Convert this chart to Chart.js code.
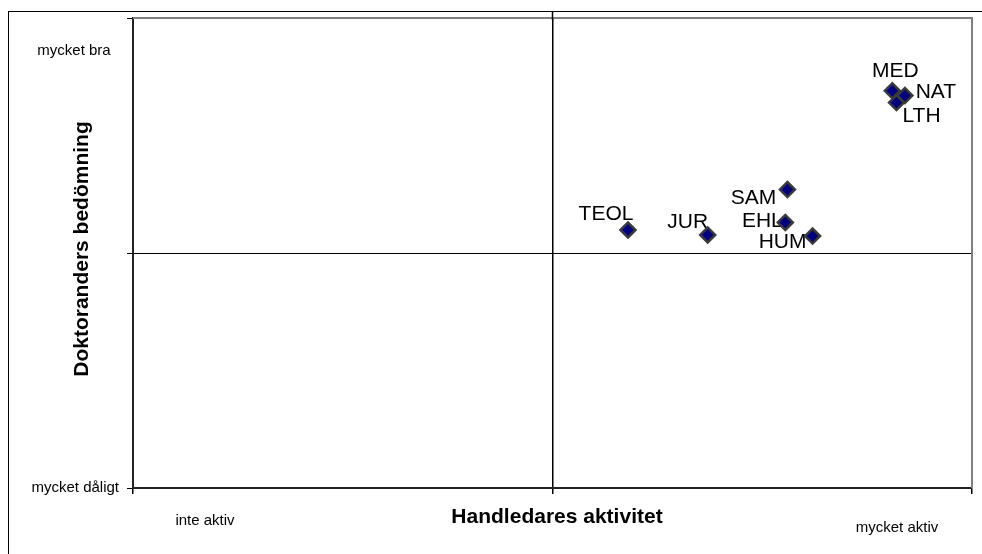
<!DOCTYPE html>
<html>
<head>
<meta charset="utf-8">
<script src="https://cdn.jsdelivr.net/npm/chart.js@4.4.1/dist/chart.umd.min.js"></script>
<style>
    body { margin: 0; background: #fff; }
    canvas { display: block; }
</style>
</head>
<body>
<canvas id="chart" width="982" height="554"></canvas>
<script>
// Faculties and their position (x = handledares aktivitet, y = doktoranders bedömning), scale -1..1
const faculties = ['MED', 'NAT', 'LTH', 'SAM', 'EHL', 'HUM', 'TEOL', 'JUR'];
const activity = [0.81, 0.84, 0.82, 0.56, 0.555, 0.62, 0.18, 0.37];
const rating = [0.69, 0.67, 0.64, 0.27, 0.13, 0.072, 0.098, 0.077];

const xTitle = 'Handledares aktivitet';
const yTitle = 'Doktoranders bedömning';
const xEndLabels = ['inte aktiv', 'mycket aktiv'];
const yEndLabels = ['mycket dåligt', 'mycket bra'];

// where each name sits relative to its marker
const labelOffsets = {
    MED: [3, -20], NAT: [31, -3], LTH: [25, 14], SAM: [-34, 9],
    EHL: [-23, -1], HUM: [-30, 6], TEOL: [-22, -16], JUR: [-20, -13]
};

const FONT = '"Liberation Sans", Arial, sans-serif';

const decorations = {
    id: 'decorations',
    beforeDraw(chart) {
        const ctx = chart.ctx;
        ctx.save();
        ctx.strokeStyle = '#000';
        ctx.lineWidth = 1;
        ctx.strokeRect(8.5, 11.5, 1100, 700);
        ctx.restore();
    },
    beforeDatasetsDraw(chart) {
        const ctx = chart.ctx;
        const a = chart.chartArea;
        // grey plot border top and right
        ctx.save();
        ctx.strokeStyle = '#808080';
        ctx.lineWidth = 2;
        ctx.beginPath();
        ctx.moveTo(a.left, a.top);
        ctx.lineTo(a.right, a.top);
        ctx.lineTo(a.right, a.bottom);
        ctx.stroke();

        // centre line runs up to the outer frame
        const x0 = chart.scales.x.getPixelForValue(0);
        ctx.strokeStyle = '#000';
        ctx.lineWidth = 1.5;
        ctx.beginPath();
        ctx.moveTo(x0, 11);
        ctx.lineTo(x0, a.top + 2);
        ctx.stroke();

        // point names
        const meta = chart.getDatasetMeta(0);
        ctx.fillStyle = '#000';
        ctx.font = '21px ' + FONT;
        ctx.textAlign = 'center';
        ctx.textBaseline = 'middle';
        meta.data.forEach((pt, i) => {
            const off = labelOffsets[faculties[i]];
            ctx.fillText(faculties[i], pt.x + off[0], pt.y + off[1]);
        });
        ctx.restore();
    },
    afterDraw(chart) {
        const ctx = chart.ctx;
        const a = chart.chartArea;
        const ys = chart.scales.y;
        ctx.save();
        ctx.fillStyle = '#000';
        ctx.textBaseline = 'middle';

        ctx.font = '15px ' + FONT;
        ctx.textAlign = 'center';
        ctx.fillText(yEndLabels[1], 74, ys.getPixelForValue(0.86));
        ctx.textAlign = 'right';
        ctx.fillText(yEndLabels[0], a.left - 14, ys.getPixelForValue(-1));
        ctx.textAlign = 'center';
        ctx.fillText(xEndLabels[0], 205, a.bottom + 33);
        ctx.fillText(xEndLabels[1], 897, a.bottom + 40);

        ctx.font = 'bold 21px ' + FONT;
        ctx.fillText(xTitle, 557, a.bottom + 29);
        ctx.translate(82, ys.getPixelForValue(0) - 4);
        ctx.rotate(-Math.PI / 2);
        ctx.fillText(yTitle, 0, 0);
        ctx.restore();
    }
};

function gridColor(c) {
    if (c.tick.value === 0) return '#000';
    return 'rgba(0,0,0,0)';
}

new Chart(document.getElementById('chart'), {
    type: 'scatter',
    data: {
        datasets: [{
            data: activity.map((v, i) => ({ x: v, y: rating[i] })),
            pointStyle: 'rectRot',
            pointRadius: 7.5,
            pointHoverRadius: 7.5,
            backgroundColor: '#000080',
            borderColor: '#3a3a3a',
            borderWidth: 2.5
        }]
    },
    options: {
        responsive: false,
        animation: false,
        layout: { padding: { left: 127, top: 18, right: 10, bottom: 60 } },
        plugins: { legend: { display: false }, tooltip: { enabled: false } },
        scales: {
            x: {
                min: -1, max: 1,
                ticks: { display: false, stepSize: 1 },
                grid: { color: gridColor, tickColor: '#000', tickLength: 6, lineWidth: 1.5 },
                border: { color: '#222', width: 2 }
            },
            y: {
                min: -1, max: 1,
                ticks: { display: false, stepSize: 1 },
                grid: { color: gridColor, tickColor: '#000', tickLength: 6, lineWidth: 1 },
                border: { color: '#222', width: 2 }
            }
        }
    },
    plugins: [decorations]
});
</script>
</body>
</html>
